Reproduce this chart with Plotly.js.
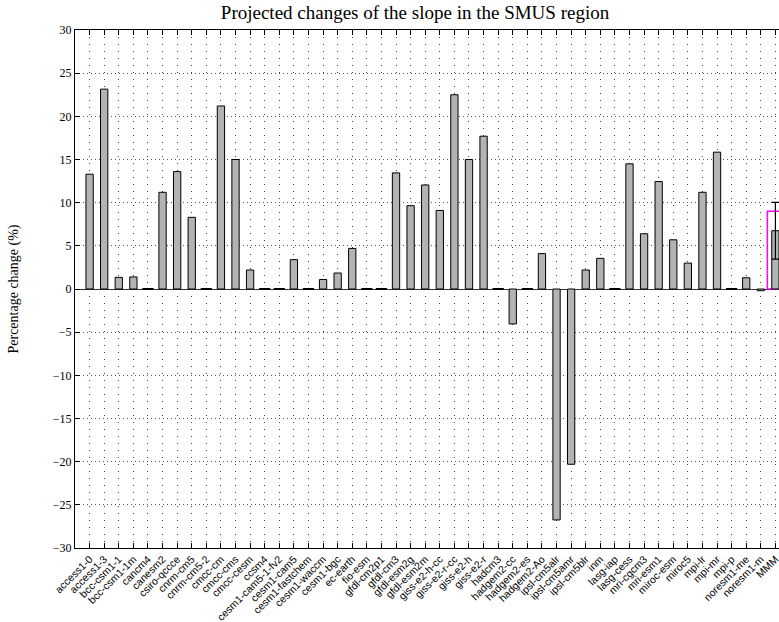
<!DOCTYPE html>
<html>
<head>
<meta charset="utf-8">
<script src="https://cdn.plot.ly/plotly-3.0.1.min.js"></script>
<style>
html,body{margin:0;padding:0;overflow:hidden;background:#fff;}
#chart{width:800px;height:622px;}
</style>
</head>
<body>
<div id="chart"></div>
<script>
// Model names (x tick labels)
const models = [
  "access1-0","access1-3","bcc-csm1-1","bcc-csm1-1m","cancm4","canesm2",
  "csiro-qccce","cnrm-cm5","cnrm-cm5-2","cmcc-cm","cmcc-cms","cmcc-cesm",
  "ccsm4","cesm1-cam5-1-fv2","cesm1-cam5","cesm1-fastchem","cesm1-waccm","cesm1-bgc",
  "ec-earth","fio-esm","gfdl-cm2p1","gfdl-cm3","gfdl-esm2g","gfdl-esm2m",
  "giss-e2-h-cc","giss-e2-r-cc","giss-e2-h","giss-e2-r","hadcm3","hadgem2-cc",
  "hadgem2-es","hadgem2-Ao","ipsl-cm5alr","ipsl-cm5amr","ipsl-cm5blr","inm",
  "lasg-iap","lasg-cess","mri-cgcm3","mri-esm1","miroc-esm","miroc5",
  "mpi-lr","mpi-mr","mpi-p","noresm1-me","noresm1-m"
];
// Percentage change per model
const changes = [
  13.3, 23.15, 1.35, 1.4, 0, 11.2,
  13.6, 8.3, 0, 21.2, 15.0, 2.2,
  0, 0, 3.4, 0, 1.1, 1.85,
  4.7, 0, 0, 13.45, 9.65, 12.05,
  9.1, 22.5, 15.0, 17.7, 0, -4.05,
  0, 4.1, -26.75, -20.3, 2.2, 3.55,
  0, 14.5, 6.4, 12.45, 5.7, 3.0,
  11.2, 15.85, 0, 1.3, -0.2
];
// Multi-model mean and its spread
const mmmLabel = "MMM";
const mmmValue = [6.75];
const mmmError = [3.28];
const mmmOutline = [9.0];

const labels = models.concat([mmmLabel]);
const xModels = models.map((m, i) => i + 1);
const xMMM = [labels.length];
const zeroX = xModels.filter((x, i) => changes[i] === 0);
const zeroY = zeroX.map(() => 0);

const serif = "Liberation Serif, Times New Roman, serif";
const sans = "Liberation Sans, Arial, Helvetica, sans-serif";

const traces = [
  {
    type: "bar", x: xMMM, y: mmmOutline, width: 1.1,
    marker: {color: "rgba(0,0,0,0)", line: {color: "#ff00ff", width: 1.5}},
    hoverinfo: "skip", showlegend: false
  },
  {
    type: "bar", x: xModels, y: changes, width: 0.5,
    marker: {color: "#b3b3b3", line: {color: "#000", width: 1}},
    showlegend: false
  },
  {
    type: "bar", x: xMMM, y: mmmValue, width: 0.5,
    marker: {color: "#b3b3b3", line: {color: "#000", width: 1}},
    error_y: {type: "data", array: mmmError, visible: true, color: "#000", thickness: 1.2, width: 4},
    showlegend: false
  },
  {
    type: "scatter", mode: "markers", x: zeroX, y: zeroY,
    marker: {symbol: "line-ew", size: 8, line: {color: "#000", width: 2}},
    hoverinfo: "skip", showlegend: false
  }
];

const layout = {
  width: 800, height: 622,
  margin: {l: 75, r: 10, t: 30, b: 74},
  paper_bgcolor: "#fff", plot_bgcolor: "#fff",
  barmode: "overlay",
  title: {
    text: "Projected changes of the slope in the SMUS region",
    font: {family: serif, size: 19, color: "#000"},
    x: 415/800, xanchor: "center", xref: "container",
    y: 1 - 12/622, yanchor: "middle", yref: "container"
  },
  xaxis: {
    range: [0, labels.length + 1],
    tickmode: "array",
    tickvals: labels.map((l, i) => i + 1),
    ticktext: labels,
    tickangle: -45,
    tickfont: {family: sans, size: 10.5, color: "#000"},
    ticks: "inside", ticklen: 5, tickcolor: "#000", tickwidth: 1,
    showline: true, linecolor: "#000", linewidth: 1, mirror: "ticks",
    showgrid: true, gridcolor: "#444", gridwidth: 1, griddash: "1px,6px",
    zeroline: false, fixedrange: true
  },
  yaxis: {
    range: [-30, 30],
    tickmode: "linear", tick0: -30, dtick: 5,
    tickfont: {family: serif, size: 12, color: "#000"},
    ticks: "inside", ticklen: 5, tickcolor: "#000", tickwidth: 1,
    showline: true, linecolor: "#000", linewidth: 1, mirror: "ticks",
    showgrid: true, gridcolor: "#555", gridwidth: 1, griddash: "1px,3px",
    zeroline: true, zerolinecolor: "#333", zerolinewidth: 1,
    title: {text: "Percentage change (%)", font: {family: serif, size: 14, color: "#000"}, standoff: 30},
    fixedrange: true
  },
  font: {family: serif, color: "#000"}
};

Plotly.newPlot("chart", traces, layout, {displayModeBar: false, staticPlot: true});
</script>
</body>
</html>
